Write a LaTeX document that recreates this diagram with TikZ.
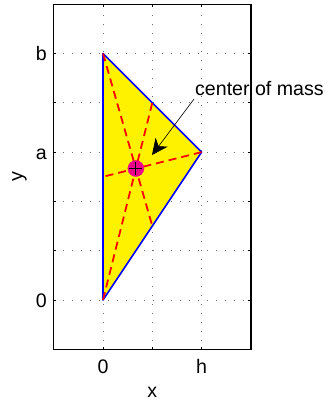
\documentclass[tikz,border=0pt]{standalone}
\usepackage{fontspec}
\setmainfont{Liberation Sans}
\usetikzlibrary{arrows.meta}
\begin{document}
\begin{tikzpicture}[x=49.3bp,y=49.3bp,
  lbl/.style={font=\fontsize{19.6bp}{22bp}\selectfont, inner sep=0pt},
  gridline/.style={gray!85!black, line width=0.8bp, dash pattern=on 0.8bp off 8.2bp},
  tickmark/.style={black, line width=0.8bp},
  frame/.style={black, line width=1.3bp},
  triedge/.style={blue, fill=yellow, line width=1.6bp, line join=round},
  median/.style={red, line width=1.8bp, dash pattern=on 8bp off 5bp},
  cmdot/.style={circle, fill=magenta, draw=magenta, minimum size=16bp, inner sep=0pt},
  pointer/.style={black, line width=0.6bp, -{Stealth[length=16bp, width=15bp, inset=5bp]}}]
\useasboundingbox (-2.0892,-2.0284) rectangle (4.5030,6.0852);
% grid
\foreach \u in {0,1,2} \draw[gridline] (\u,-1) -- (\u,6);
\foreach \v in {0,1,2,3,4,5} \draw[gridline] (-1,\v) -- (3,\v);
% triangle
\coordinate (P0) at (0,0);
\coordinate (Pb) at (0,5);
\coordinate (Pa) at (2,3);
\coordinate (M0) at (1,4);
\coordinate (Mb) at (1,1.5);
\coordinate (Ma) at (0,2.5);
\draw[triedge] (P0) -- (Pb) -- (Pa) -- cycle;
\draw[median] (P0) -- (M0);
\draw[median] (Pb) -- (Mb);
\draw[median] (Pa) -- (Ma);
% centroid
\node[cmdot] (cm) at (2/3,8/3) {};
\draw[black, line width=0.9bp] ([xshift=-6.5bp]cm.center) -- ([xshift=6.5bp]cm.center);
\draw[black, line width=0.9bp] ([yshift=-6.5bp]cm.center) -- ([yshift=6.5bp]cm.center);
% annotation
\coordinate (arrowstart) at (1.846,4.077);
\coordinate (arrowtip) at (0.994,2.941);
\draw[pointer] (arrowstart) -- (arrowtip);
% frame and ticks
\foreach \u in {0,1,2} {
  \draw[tickmark] (\u,-1) -- ++(0,2.5bp);
  \draw[tickmark] (\u,6) -- ++(0,-2.5bp);
}
\foreach \v in {0,1,2,3,4,5} {
  \draw[tickmark] (-1,\v) -- ++(2.5bp,0);
  \draw[tickmark] (3,\v) -- ++(-2.5bp,0);
}
\draw[frame] (-1,-1) rectangle (3,6);
% labels
\node[lbl, anchor=base west] (cmlabel) at (1.866,4.158) {center of mass};
\node[lbl, anchor=base] (xt0) at (0,-1.481) {0};
\node[lbl, anchor=base] (xth) at (2,-1.481) {h};
\node[lbl, anchor=base east] (yt0) at (-1.136,-0.152) {0};
\node[lbl, anchor=base east] (yta) at (-1.136,2.848) {a};
\node[lbl, anchor=base east] (ytb) at (-1.136,4.848) {b};
\node[lbl, anchor=base] (xlab) at (1,-1.968) {x};
\node[lbl, rotate=90] (ylab) at (-1.694,2.5) {y};
\end{tikzpicture}
\end{document}
